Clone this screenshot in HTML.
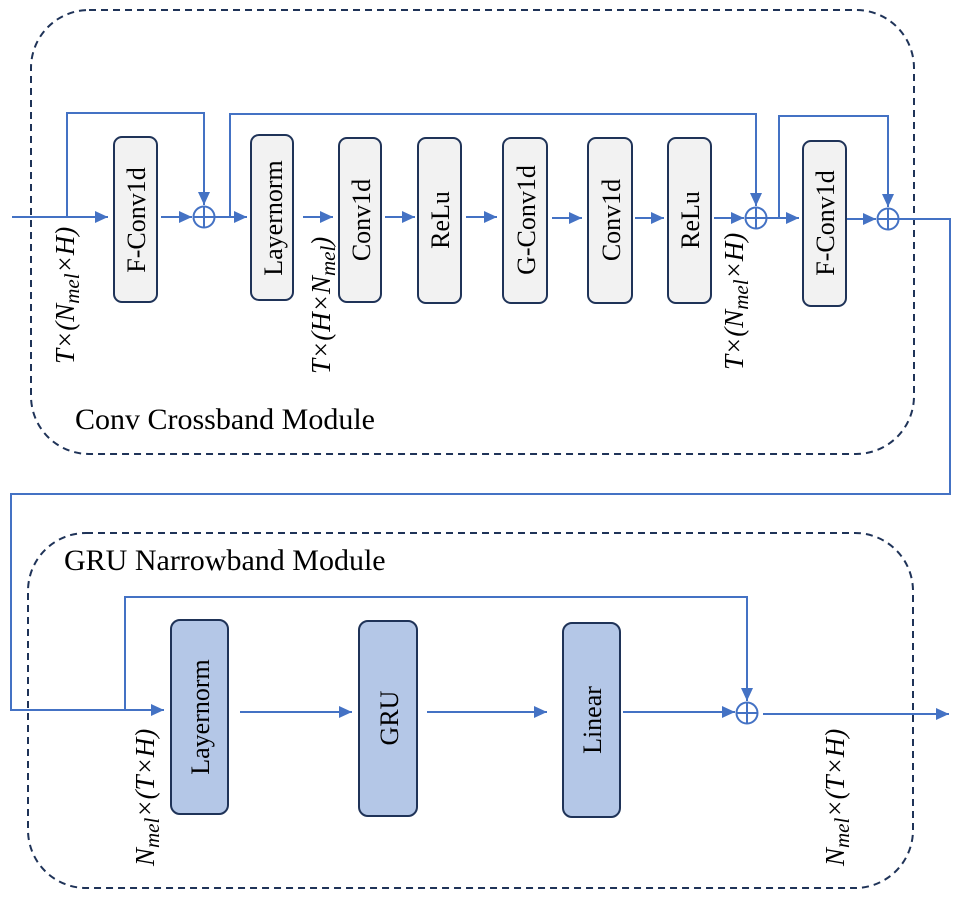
<!DOCTYPE html>
<html><head><meta charset="utf-8"><style>body{margin:0;background:#fff}svg{display:block}</style></head><body>
<svg width="967" height="899" viewBox="0 0 967 899" xmlns="http://www.w3.org/2000/svg" font-family="'Liberation Serif', serif">
<defs>
<marker id="a" markerWidth="14" markerHeight="14" refX="13" refY="6" orient="auto" markerUnits="userSpaceOnUse"><path d="M0,0 L13,6 L0,12 z" fill="#4472c4"/></marker>
</defs>
<rect x="31" y="10" width="883" height="444" rx="58" fill="none" stroke="#1f3358" stroke-width="2" stroke-dasharray="7,5"/>
<rect x="28" y="533" width="885" height="355" rx="58" fill="none" stroke="#1f3358" stroke-width="2" stroke-dasharray="7,5"/>
<g fill="none" stroke="#4472c4" stroke-width="2">
<line x1="12" y1="217" x2="108" y2="217" marker-end="url(#a)"/>
<polyline points="67,217 67,113 204,113 204,205" marker-end="url(#a)"/>
<line x1="161" y1="217" x2="192" y2="217" marker-end="url(#a)"/>
<circle cx="204" cy="217" r="10.5"/><line x1="193.5" y1="217" x2="214.5" y2="217"/><line x1="204" y1="206.5" x2="204" y2="227.5"/>
<line x1="215" y1="217" x2="247" y2="217" marker-end="url(#a)"/>
<polyline points="230,217 230,114 756,114 756,206" marker-end="url(#a)"/>
<line x1="303" y1="217" x2="333" y2="217" marker-end="url(#a)"/>
<line x1="385" y1="217" x2="415" y2="217" marker-end="url(#a)"/>
<line x1="466" y1="217" x2="497" y2="217" marker-end="url(#a)"/>
<line x1="552" y1="218" x2="582" y2="218" marker-end="url(#a)"/>
<line x1="635" y1="218" x2="664" y2="218" marker-end="url(#a)"/>
<line x1="714" y1="218" x2="744" y2="218" marker-end="url(#a)"/>
<circle cx="756" cy="218" r="10.5"/><line x1="745.5" y1="218" x2="766.5" y2="218"/><line x1="756" y1="207.5" x2="756" y2="228.5"/>
<line x1="767" y1="218" x2="799" y2="218" marker-end="url(#a)"/>
<polyline points="779,218 779,116 888,116 888,207" marker-end="url(#a)"/>
<line x1="847" y1="219" x2="876" y2="219" marker-end="url(#a)"/>
<circle cx="888" cy="219" r="10.5"/><line x1="877.5" y1="219" x2="898.5" y2="219"/><line x1="888" y1="208.5" x2="888" y2="229.5"/>
<polyline points="899,219 950,219 950,494 11,494 11,710 164,710" marker-end="url(#a)"/>
<polyline points="125,710 125,597 747,597 747,701" marker-end="url(#a)"/>
<line x1="240" y1="712" x2="352" y2="712" marker-end="url(#a)"/>
<line x1="427" y1="712" x2="547" y2="712" marker-end="url(#a)"/>
<line x1="623" y1="712" x2="735" y2="712" marker-end="url(#a)"/>
<circle cx="747" cy="713" r="10.5"/><line x1="736.5" y1="713" x2="757.5" y2="713"/><line x1="747" y1="702.5" x2="747" y2="723.5"/>
<line x1="763" y1="714" x2="949" y2="714" marker-end="url(#a)"/>
</g>
<g fill="#f2f2f2" stroke="#1f3358" stroke-width="2">
<rect x="114" y="137" width="43" height="165" rx="8"/>
<rect x="251" y="135" width="42" height="165" rx="8"/>
<rect x="339" y="138" width="42" height="164" rx="8"/>
<rect x="418" y="138" width="43" height="165" rx="8"/>
<rect x="503" y="138" width="44" height="165" rx="8"/>
<rect x="588" y="138" width="44" height="165" rx="8"/>
<rect x="668" y="138" width="43" height="165" rx="8"/>
<rect x="803" y="141" width="43" height="165" rx="8"/>
</g>
<g fill="#b4c7e7" stroke="#1f3358" stroke-width="2">
<rect x="171" y="620" width="57" height="194" rx="9"/>
<rect x="359" y="621" width="58" height="195" rx="9"/>
<rect x="563" y="623" width="57" height="194" rx="9"/>
</g>
<g font-size="26" fill="#000" text-anchor="middle">
<text transform="translate(145,220) rotate(-90)">F-Conv1d</text>
<text transform="translate(282,218) rotate(-90)">Layernorm</text>
<text transform="translate(370,220) rotate(-90)">Conv1d</text>
<text transform="translate(449,220) rotate(-90)">ReLu</text>
<text transform="translate(535,220) rotate(-90)">G-Conv1d</text>
<text transform="translate(620,220) rotate(-90)">Conv1d</text>
<text transform="translate(699,220) rotate(-90)">ReLu</text>
<text transform="translate(834,223) rotate(-90)">F-Conv1d</text>
<text transform="translate(209,717) rotate(-90)">Layernorm</text>
<text transform="translate(398,718) rotate(-90)">GRU</text>
<text transform="translate(601,720) rotate(-90)">Linear</text>
</g>
<g font-size="30" fill="#000">
<text x="75" y="429">Conv Crossband Module</text>
<text x="64" y="570">GRU Narrowband Module</text>
</g>
<g font-size="27" font-style="italic" fill="#000">
<text transform="translate(74,364) rotate(-90)">T×(N<tspan font-size="21" dy="5">mel</tspan><tspan dy="-5">×H)</tspan></text>
<text transform="translate(330,374) rotate(-90)">T×(H×N<tspan font-size="21" dy="5">mel</tspan><tspan dy="-5">)</tspan></text>
<text transform="translate(743,370) rotate(-90)">T×(N<tspan font-size="21" dy="5">mel</tspan><tspan dy="-5">×H)</tspan></text>
<text transform="translate(154,866) rotate(-90)">N<tspan font-size="21" dy="5">mel</tspan><tspan dy="-5">×(T×H)</tspan></text>
<text transform="translate(844,866) rotate(-90)">N<tspan font-size="21" dy="5">mel</tspan><tspan dy="-5">×(T×H)</tspan></text>
</g>
</svg>
</body></html>
